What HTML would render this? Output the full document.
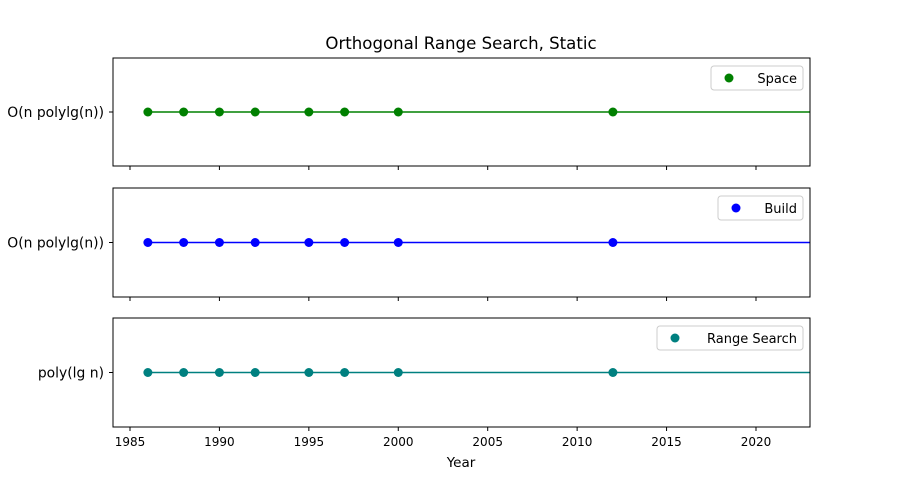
<!DOCTYPE html>
<html><head><meta charset="utf-8"><style>body{margin:0;background:#fff}svg{display:block;font-family:"DejaVu Sans","Liberation Sans",sans-serif}</style></head>
<body>
<svg id="chart" width="900" height="480">
<text x="461" y="49" font-size="16.6" text-anchor="middle">Orthogonal Range Search, Static</text>
<text x="461" y="467" font-size="13.5" text-anchor="middle">Year</text>
</svg>
<script>
const years = [1986, 1988, 1990, 1992, 1995, 1997, 2000, 2012];
const seriesNames = ["Space", "Build", "Range Search"];
const seriesLabels = ["O(n polylg(n))", "O(n polylg(n))", "poly(lg n)"];
const seriesColors = ["green", "blue", "teal"];
const xTicks = [1985, 1990, 1995, 2000, 2005, 2010, 2015, 2020];
const NS = "http://www.w3.org/2000/svg";
const svg = document.getElementById("chart");
const L = 113, R = 810, xmin = 1984.05, xmax = 2023.02;
const panels = [[58,166],[188,297],[318,427]];
const legendW = [92, 85, 146];
function x(v){ return L + (v - xmin) / (xmax - xmin) * (R - L); }
function mk(tag, attrs, parent){ const e = document.createElementNS(NS, tag); for (const k in attrs) e.setAttribute(k, attrs[k]); (parent||svg).appendChild(e); return e; }
panels.forEach((p, i) => {
  const g = mk("g", {});
  
  
  const ym = (p[0] + p[1]) / 2;
  mk("line", {x1: x(years[0]), x2: R, y1: ym, y2: ym, stroke: seriesColors[i], "stroke-width": 1.5}, g);
  years.forEach(y => {
    const c = mk("circle", {cx: x(y), cy: ym, r: 4.5, fill: seriesColors[i]}, g);
    
    
  });
  mk("rect", {x: L, y: p[0], width: R - L, height: p[1] - p[0], fill: "none", stroke: "#000", "stroke-width": 1}, g);
  mk("line", {x1: L - 4, x2: L, y1: ym, y2: ym, stroke: "#000"}, g);
  const yl = mk("text", {x: L - 9, y: ym + 5, "font-size": 13.9, "text-anchor": "end"}, g);
  yl.textContent = seriesLabels[i];
  
  
  xTicks.forEach(t => {
    mk("line", {x1: x(t), x2: x(t), y1: p[1], y2: p[1] + 4, stroke: "#000"}, g);
    if (i === 2) {
      const tl = mk("text", {x: x(t), y: p[1] + 19, "font-size": 12, "text-anchor": "middle"}, g);
      tl.textContent = t;
      
      
    }
  });
  const lg = mk("g", {}, g);
  
  
  const w = legendW[i], lx = 803 - w, ly = p[0] + 8;
  mk("rect", {x: lx, y: ly, width: w, height: 24, rx: 3, fill: "#fff", stroke: "#ccc"}, lg);
  mk("circle", {cx: lx + 18, cy: ly + 12, r: 4.5, fill: seriesColors[i]}, lg);
  const lt = mk("text", {x: lx + w - 6, y: ly + 17, "font-size": 13, "text-anchor": "end"}, lg);
  lt.textContent = seriesNames[i];
});
</script>
</body></html>
